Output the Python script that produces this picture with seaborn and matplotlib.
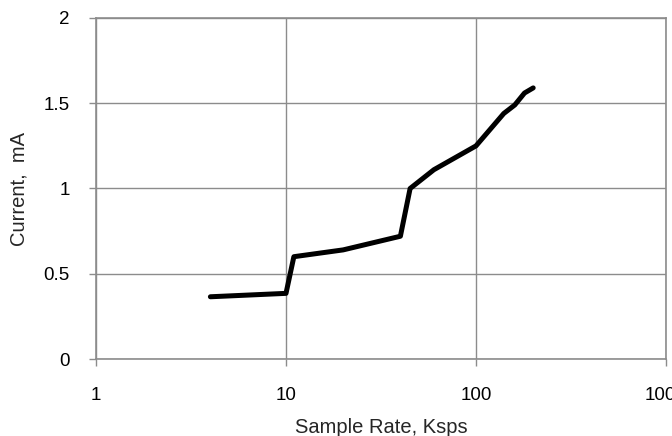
import pandas as pd
import seaborn as sns
import matplotlib.pyplot as plt
from matplotlib.ticker import FixedLocator, FixedFormatter, NullLocator

sns.set_style("white")
plt.rcParams['font.family'] = ['Liberation Sans', 'DejaVu Sans']

# sample rate (Ksps) vs supply current (mA)
sample_rate = [4, 10, 11, 20, 40, 45, 60, 100, 140, 160, 180, 200]
current_ma = [0.365, 0.385, 0.60, 0.64, 0.72, 1.00, 1.11, 1.25, 1.44, 1.49, 1.56, 1.59]
x_ticks = [1, 10, 100, 1000]
x_tick_labels = ["1", "10", "100", "1000"]
y_ticks = [0, 0.5, 1, 1.5, 2]
y_tick_labels = ["0", "0.5", "1", "1.5", "2"]

df = pd.DataFrame({"rate": sample_rate, "current": current_ma})

fig = plt.figure(figsize=(6.72, 4.36), dpi=100)
ax = fig.add_axes([96 / 672, 1 - 359 / 436, 570 / 672, 341 / 436])

sns.lineplot(data=df, x="rate", y="current", ax=ax, sort=False, estimator=None,
             color="black", linewidth=3.6, solid_capstyle="round", solid_joinstyle="round")

ax.set_xscale("log")
ax.set_xlim(1, 1000)
ax.set_ylim(0, 2)
ax.xaxis.set_major_locator(FixedLocator(x_ticks))
ax.xaxis.set_major_formatter(FixedFormatter(x_tick_labels))
ax.xaxis.set_minor_locator(NullLocator())
ax.set_yticks(y_ticks)
ax.set_yticklabels(y_tick_labels)

ax.grid(True, color="#8c8c8c", linewidth=1.0)
ax.set_axisbelow(True)
for sp in ax.spines.values():
    sp.set_visible(True)
    sp.set_color("#8c8c8c")
    sp.set_linewidth(1.2)

ax.tick_params(axis="both", which="major", direction="out", length=5, width=1,
               color="#8c8c8c", labelsize=13.5, labelcolor="black", bottom=True, left=True)
ax.tick_params(axis="x", pad=15)
ax.tick_params(axis="y", pad=14)

ax.set_xlabel("Sample Rate, Ksps", fontsize=14.5, labelpad=10)
ax.set_ylabel("Current,  mA", fontsize=14.5, labelpad=11)

fig.savefig("out.png", dpi=100)
